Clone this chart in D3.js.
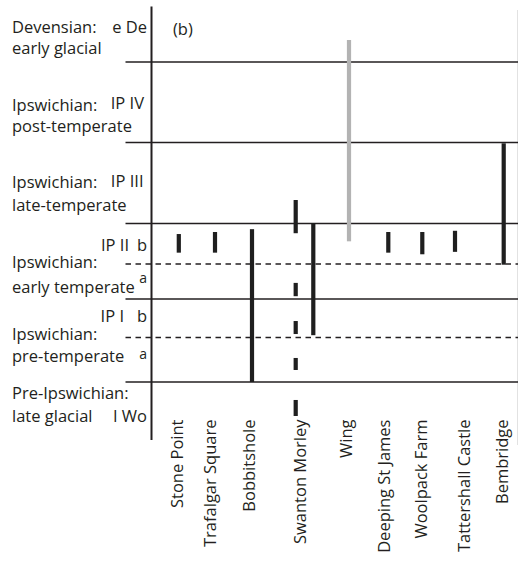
<!DOCTYPE html>
<html>
<head>
<meta charset="utf-8">
<script src="https://cdn.jsdelivr.net/npm/d3@7/dist/d3.min.js"></script>
<style>
  html, body { margin: 0; padding: 0; background: #fff; }
  svg { display: block; }
  text { font-family: "Open Sans", "Noto Sans", sans-serif; fill: #231f20; }
</style>
</head>
<body>
<svg id="chart" width="518" height="564"></svg>
<script>
// ---------------- DATA ----------------
const sites = ["Stone Point", "Trafalgar Square", "Bobbitshole", "Swanton Morley", "Wing",
               "Deeping St James", "Woolpack Farm", "Tattershall Castle", "Bembridge"];

// stratigraphic position units (0 = base of Pre-Ipswichian, 6 = top of Devensian)
const zoneBounds = [0, 1, 1.5, 2, 2.5, 3, 4, 5, 6];
const boundaryValues = [1, 1.5, 2, 2.5, 3, 4, 5];
const boundaryDashed = [false, true, false, true, false, false, false];

const stageLine1 = ["Devensian:", "Ipswichian:", "Ipswichian:", "Ipswichian:", "Ipswichian:", "Pre-Ipswichian:"];
const stageLine2 = ["early glacial", "post-temperate", "late-temperate", "early temperate", "pre-temperate", "late glacial"];
const stageCodes = ["e De", "IP IV", "IP III", "IP II", "IP I", "I Wo"];
const subzoneLabels = ["b", "a", "b", "a"];
const panelLabel = "(b)";

// bars: site, record lane, from, to, kind
const barSite  = ["Stone Point", "Trafalgar Square", "Bobbitshole",
                  "Swanton Morley", "Swanton Morley", "Swanton Morley", "Swanton Morley", "Swanton Morley",
                  "Swanton Morley", "Wing", "Deeping St James", "Woolpack Farm", "Tattershall Castle", "Bembridge"];
const barLane  = ["main", "main", "main", "left", "left", "left", "left", "left", "right",
                  "main", "main", "main", "main", "main"];
const barFrom  = [2.64, 2.64, 1.00, 2.88, 2.04, 1.545, 1.135, 0.414, 1.53, 2.78, 2.64, 2.62, 2.65, 2.49];
const barTo    = [2.87, 2.895, 2.93, 3.29, 2.23, 1.714, 1.27, 0.69, 3.006, 5.40, 2.895, 2.895, 2.91, 3.99];
const barKind  = ["black", "black", "black", "black", "black", "black", "black", "black", "black",
                  "grey", "black", "black", "black", "black"];

// ---------------- LAYOUT ----------------
const svg = d3.select("#chart");
const ink = "#231f20";
const axisX = 151.5;
const lineX0 = 125.5, lineX1 = 518;

const y = d3.scaleLinear()
  .domain(zoneBounds)
  .range([440, 382, 337.5, 299, 264, 223.5, 142.5, 62, 7]);

const colX = d3.scaleOrdinal().domain(sites)
  .range([178.8, 215, 252, 304.5, 349, 388.3, 422.3, 455, 503.7]);
const labelX = d3.scaleOrdinal().domain(sites)
  .range([177.5, 210.5, 249.5, 300.5, 346.5, 384.5, 421.5, 464, 502.5]);
const laneOffset = { main: 0, left: -8.8, right: 8.8 };
const barColor = { black: "#1f1f1f", grey: "#b3b3b3" };
const barW = 4.2;

// vertical axis
svg.append("line")
  .attr("x1", axisX).attr("x2", axisX)
  .attr("y1", y(6) - 0.5).attr("y2", y(0))
  .attr("stroke", ink).attr("stroke-width", 2);

// faint right border
svg.append("line")
  .attr("x1", 517.5).attr("x2", 517.5).attr("y1", 10).attr("y2", 445)
  .attr("stroke", "#e2e2e2").attr("stroke-width", 1);

// zone boundaries
svg.selectAll("line.bound")
  .data(boundaryValues)
  .join("line")
  .attr("class", "bound")
  .attr("x1", lineX0).attr("x2", lineX1)
  .attr("y1", d => y(d)).attr("y2", d => y(d))
  .attr("stroke", ink)
  .attr("stroke-width", 1.5)
  .attr("stroke-dasharray", (d, i) => boundaryDashed[i] ? "5.5,4.5" : null);

// bars
const bars = barSite.map((s, i) => ({ site: s, lane: barLane[i], from: barFrom[i], to: barTo[i], kind: barKind[i] }));
svg.selectAll("rect.bar")
  .data(bars)
  .join("rect")
  .attr("class", "bar")
  .attr("x", d => colX(d.site) + laneOffset[d.lane] - barW / 2)
  .attr("width", barW)
  .attr("y", d => y(d.to))
  .attr("height", d => y(d.from) - y(d.to))
  .attr("fill", d => barColor[d.kind]);

// site labels (rotated)
svg.selectAll("text.site")
  .data(sites)
  .join("text")
  .attr("class", "site")
  .attr("transform", d => `translate(${labelX(d)},419.5) rotate(-90)`)
  .attr("dy", "0.36em")
  .attr("text-anchor", "end")
  .attr("font-size", 16.5)
  .text(d => d);

// stage labels (two-line blocks)
const fs = 16.5;
const line1Y = [32.6, 110.7, 188.3, 268.3, 340, 399.3];
const line2Y = [53.8, 131.9, 210.7, 293.3, 361.7, 421.7];
const codeEndX = [147, 144, 143.5, 129, 124, 147];
const codeY = [32.6, 108.7, 186.7, 250.7, 321.7, 421.7];

stageLine1.forEach((t, i) => {
  const block = svg.append("text").attr("x", 12).attr("y", line1Y[i]).attr("font-size", fs);
  block.append("tspan").attr("x", 12).attr("y", line1Y[i]).text(t);
  block.append("tspan").attr("x", 12).attr("y", line2Y[i]).text(stageLine2[i]);
  svg.append("text").attr("x", codeEndX[i]).attr("y", codeY[i])
    .attr("text-anchor", "end").attr("font-size", fs).text(stageCodes[i]);
});

// sub-zone letters
const subY = [250.7, 283, 321.7, 358.5];
const subFs = [fs, 14, fs, 14];
subzoneLabels.forEach((t, i) => {
  svg.append("text").attr("x", 147).attr("y", subY[i])
    .attr("text-anchor", "end").attr("font-size", subFs[i]).text(t);
});

// panel label
svg.append("text").attr("x", 173).attr("y", 35).attr("font-size", fs).text(panelLabel);
</script>
</body>
</html>
